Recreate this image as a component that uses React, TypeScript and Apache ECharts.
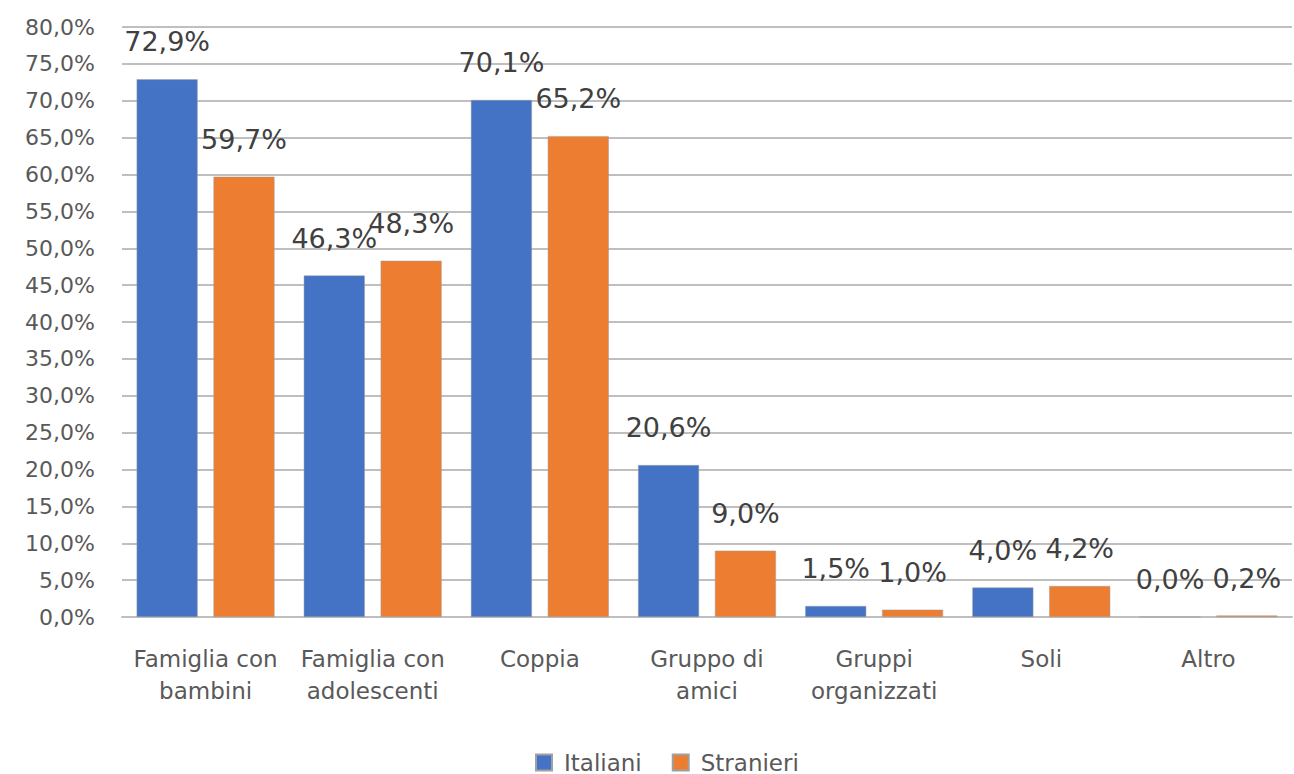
import React, { useEffect, useRef } from "react";
import * as echarts from "echarts";

const categories = [
  "Famiglia con\nbambini",
  "Famiglia con\nadolescenti",
  "Coppia",
  "Gruppo di\namici",
  "Gruppi\norganizzati",
  "Soli",
  "Altro",
];
const italiani = [72.9, 46.3, 70.1, 20.6, 1.5, 4.0, 0.0];
const stranieri = [59.7, 48.3, 65.2, 9.0, 1.0, 4.2, 0.2];
const seriesNames = ["Italiani", "Stranieri"];
const colors = ["#4472C4", "#ED7D31"];

const FONT = "'DejaVu Sans', 'Noto Sans', sans-serif";
const fmt = (v: number) => v.toFixed(1).replace(".", ",") + "%";

export default function App() {
  const ref = useRef<HTMLDivElement>(null);
  useEffect(() => {
    if (!ref.current) return;
    const chart = echarts.init(ref.current, undefined, { renderer: "svg" });
    const label = {
      show: true,
      position: "top" as const,
      distance: 24,
      color: "#404040",
      fontSize: 27,
      fontFamily: FONT,
      formatter: (p: any) => fmt(p.value),
    };
    chart.setOption({
      animation: false,
      backgroundColor: "#ffffff",
      grid: { left: 122, right: 2, top: 27, bottom: 157 },
      legend: {
        data: seriesNames,
        top: 746,
        left: 530,
        itemWidth: 16,
        itemHeight: 16,
        itemGap: 30,
        icon: "rect",
        textStyle: { color: "#595959", fontSize: 23, fontFamily: FONT, padding: [0, 0, 0, 7] },
      },
      xAxis: {
        type: "category",
        data: categories,
        axisLine: { lineStyle: { color: "#bfbfbf", width: 2 } },
        axisTick: { show: false },
        axisLabel: {
          color: "#595959",
          fontSize: 23,
          fontFamily: FONT,
          margin: 26,
          lineHeight: 32,
          interval: 0,
        },
      },
      yAxis: {
        type: "value",
        min: 0,
        max: 80,
        interval: 5,
        axisLine: { show: false },
        axisTick: { show: false },
        splitLine: { lineStyle: { color: "#bfbfbf", width: 2 } },
        axisLabel: {
          color: "#595959",
          fontSize: 22,
          fontFamily: FONT,
          margin: 27,
          formatter: (v: number) => fmt(v),
        },
      },
      series: [
        {
          name: seriesNames[0],
          type: "bar",
          data: italiani,
          barWidth: "36.5%",
          barGap: "26%",
          itemStyle: { color: colors[0], borderColor: "#a0a0a0", borderWidth: 0.5 },
          label,
        },
        {
          name: seriesNames[1],
          type: "bar",
          data: stranieri,
          barWidth: "36.5%",
          itemStyle: { color: colors[1], borderColor: "#a0a0a0", borderWidth: 0.5 },
          label,
        },
      ],
    });
    return () => chart.dispose();
  }, []);
  return (
    <div
      ref={ref}
      style={{ position: "fixed", left: 0, top: 0, width: 1294, height: 774 }}
    />
  );
}
